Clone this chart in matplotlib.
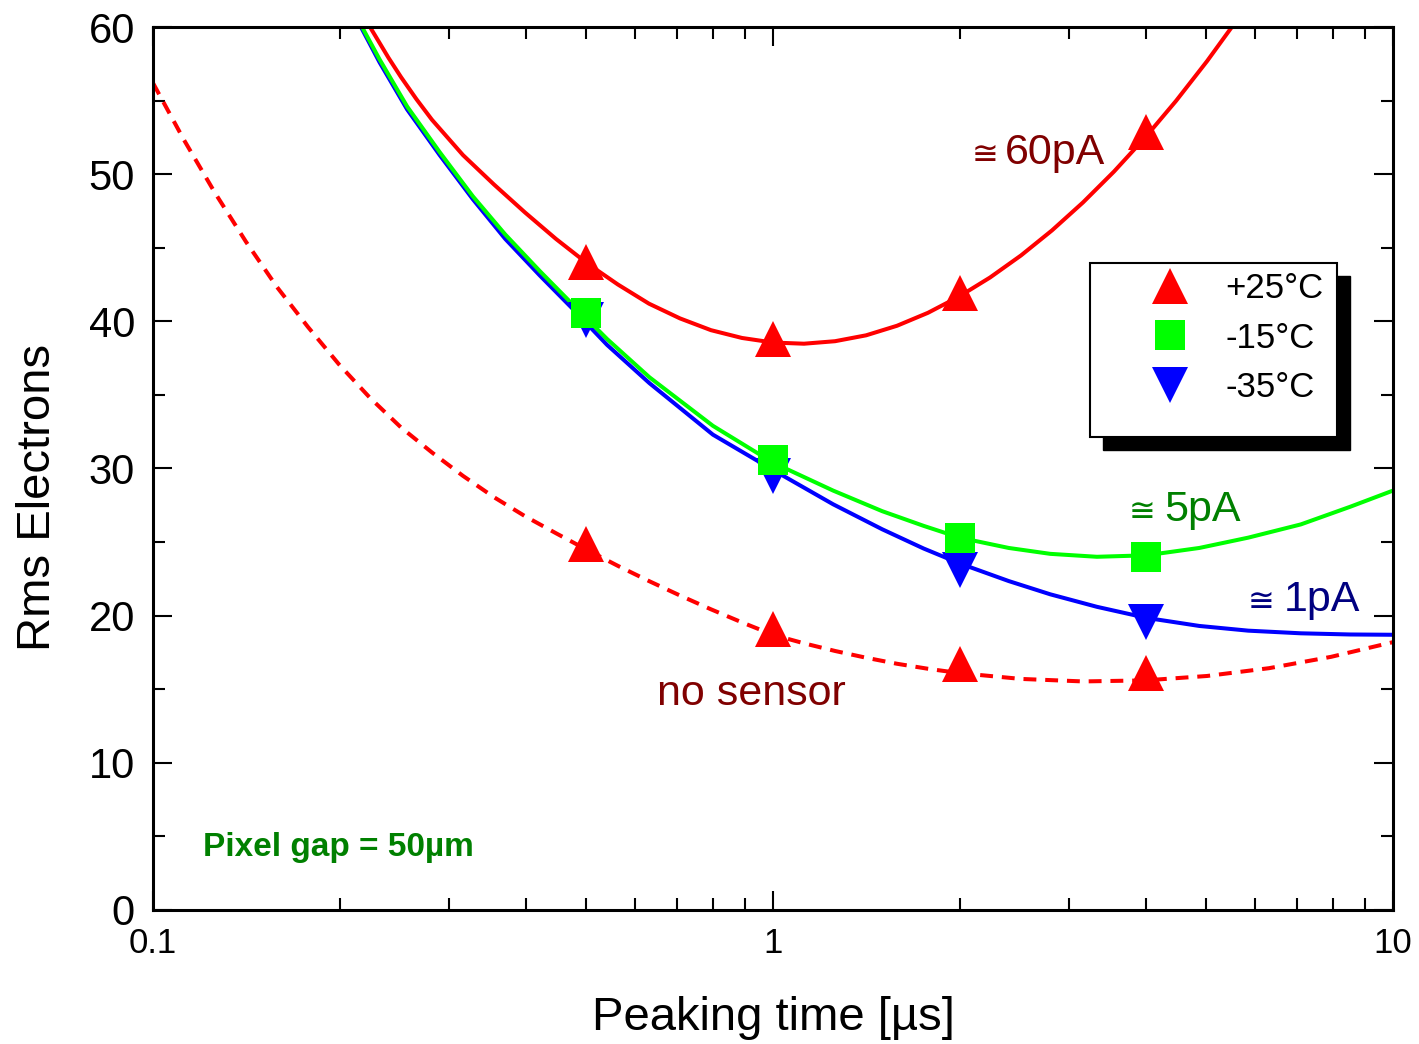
import matplotlib
matplotlib.use("Agg")
import matplotlib.pyplot as plt
from matplotlib.lines import Line2D
from matplotlib.patches import Rectangle
from matplotlib.ticker import FixedLocator, NullFormatter, MultipleLocator

plt.rcParams['font.family'] = ['Liberation Sans', 'DejaVu Sans']

# measured points (peaking time in us)
peak_times = [0.5, 1, 2, 4]
rms_25C = [44.0, 38.8, 41.9, 52.9]
rms_m15C = [40.6, 30.6, 25.3, 24.0]
rms_m35C = [40.1, 29.5, 23.1, 19.6]
rms_nosensor = [24.9, 19.1, 16.7, 16.1]

# fitted curves
fit_25C_t = [0.2239, 0.2399, 0.2512, 0.266, 0.2818, 0.3162, 0.3548, 0.3981, 0.4467,
             0.5012, 0.5623, 0.631, 0.7079, 0.7943, 0.8913, 1.0, 1.122, 1.259, 1.413,
             1.585, 1.778, 1.995, 2.239, 2.512, 2.818, 3.162, 3.548, 3.981, 4.467,
             5.012, 5.623]
fit_25C_rms = [60.0, 57.9, 56.6, 55.1, 53.7, 51.3, 49.3, 47.4, 45.6,
               43.95, 42.5, 41.2, 40.2, 39.4, 38.87, 38.56, 38.48, 38.65, 39.05,
               39.7, 40.58, 41.68, 42.98, 44.48, 46.18, 48.08, 50.18, 52.48, 54.98,
               57.68, 60.58]

fit_m15C_t = [0.2174, 0.232, 0.257, 0.290, 0.328, 0.370, 0.421, 0.474, 0.54, 0.632,
              0.80, 1.0, 1.25, 1.5, 1.75, 2.0, 2.4, 2.8, 3.33, 4.0, 4.87, 5.84, 7.1,
              8.53, 10.0]
fit_m15C_rms = [60.0, 57.8, 54.6, 51.5, 48.5, 45.9, 43.4, 41.2, 38.8, 36.2,
                32.9, 30.4, 28.5, 27.1, 26.1, 25.3, 24.6, 24.2, 24.0, 24.1, 24.6, 25.3, 26.2,
                27.4, 28.5]

fit_m35C_t = [0.2165, 0.232, 0.257, 0.290, 0.328, 0.370, 0.421, 0.474, 0.54, 0.632,
              0.80, 1.0, 1.25, 1.5, 1.75, 2.0, 2.4, 2.8, 3.33, 4.0, 4.87, 5.84, 7.1,
              8.53, 10.0]
fit_m35C_rms = [60.0, 57.6, 54.4, 51.3, 48.3, 45.6, 43.1, 40.9, 38.4, 35.8,
                32.3, 29.9, 27.57, 25.87, 24.56, 23.55, 22.35, 21.45, 20.6, 19.85, 19.3, 18.98, 18.8,
                18.72, 18.7]

fit_nos_t = [0.1, 0.1122, 0.1259, 0.1413, 0.1585, 0.1778, 0.1995, 0.2239, 0.2512, 0.2818,
             0.3162, 0.3548, 0.3981, 0.4467, 0.5012, 0.5623, 0.631, 0.7079, 0.7943, 0.8913,
             1.0, 1.122, 1.259, 1.413, 1.585, 1.778, 1.995, 2.512, 3.162, 3.981, 5.012,
             6.31, 7.943, 10.0]
fit_nos_rms = [56.2, 52.33, 48.73, 45.4, 42.33, 39.62, 37.08, 34.8, 32.79, 31.09,
               29.5, 28.05, 26.76, 25.6, 24.47, 23.38, 22.35, 21.37, 20.43, 19.54,
               18.7, 18.12, 17.6, 17.14, 16.73, 16.39, 16.1, 15.7, 15.53, 15.6, 15.9,
               16.43, 17.2, 18.2]

legend_labels = ['+25°C', '-15°C', '-35°C']

fig = plt.figure(figsize=(14.19, 10.44), dpi=100)
ax = fig.add_axes([0.1078, 0.1284, 0.8739, 0.8457])

lw = 2.9
ax.plot(fit_nos_t, fit_nos_rms, color='#FF0000', lw=lw, ls=(0, (3.2, 2.2)), zorder=2)
ax.plot(fit_m35C_t, fit_m35C_rms, color='#0000FF', lw=lw, zorder=2)
ax.plot(fit_m15C_t, fit_m15C_rms, color='#00FF00', lw=lw, zorder=2.1)
ax.plot(fit_25C_t, fit_25C_rms, color='#FF0000', lw=lw, zorder=2.2)

ms_tri = 26
ms_sq = 21.5
ax.plot(peak_times, rms_nosensor, ls='none', marker='^', ms=ms_tri, color='#FF0000', mew=0, zorder=3)
ax.plot(peak_times, rms_m35C, ls='none', marker='v', ms=ms_tri, color='#0000FF', mew=0, zorder=3)
ax.plot(peak_times, rms_m15C, ls='none', marker='s', ms=ms_sq, color='#00FF00', mew=0, zorder=3.1)
ax.plot(peak_times, rms_25C, ls='none', marker='^', ms=ms_tri, color='#FF0000', mew=0, zorder=3.2)

ax.set_xscale('log')
ax.set_xlim(0.1, 10)
ax.set_ylim(0, 60)

ax.xaxis.set_major_locator(FixedLocator([0.1, 1, 10]))
ax.set_xticklabels(['0.1', '1', '10'])
minor_x = [m * d for d in (0.1, 1) for m in range(2, 10)]
ax.xaxis.set_minor_locator(FixedLocator(minor_x))
ax.xaxis.set_minor_formatter(NullFormatter())
ax.yaxis.set_major_locator(MultipleLocator(10))
ax.yaxis.set_minor_locator(MultipleLocator(5))

ax.tick_params(which='both', direction='in', top=True, right=True, width=1.5)
ax.tick_params(which='major', length=14)
ax.tick_params(which='minor', length=8.5)
ax.tick_params(axis='x', which='major', labelsize=25, pad=12)
ax.tick_params(axis='y', which='major', labelsize=30, pad=13)
for s in ax.spines.values():
    s.set_linewidth(2.2)

ax.set_xlabel('Peaking time [µs]', fontsize=34, labelpad=26)
ax.set_ylabel('Rms Electrons', fontsize=34)
ax.yaxis.set_label_coords(-0.075, 0.4677)

# curve annotations
ax.text(2.09, 50.7, '≅', color='#800000', fontsize=23, va='baseline')
ax.text(2.367, 50.7, '60pA', color='#800000', fontsize=31, va='baseline')
ax.text(3.74, 26.4, '≅', color='#008000', fontsize=23, va='baseline')
ax.text(4.27, 26.4, '5pA', color='#008000', fontsize=31, va='baseline')
ax.text(5.83, 20.3, '≅', color='#000080', fontsize=23, va='baseline')
ax.text(6.67, 20.3, '1pA', color='#000080', fontsize=31, va='baseline')
ax.text(0.65, 13.9, 'no sensor', color='#800000', fontsize=31, va='baseline')
ax.text(0.1204, 3.7, 'Pixel gap = 50µm', color='#008000', fontsize=24,
        fontweight='bold', va='baseline')

# legend box with hard black shadow
x0, x1 = 0.7556, 0.9548
y0, y1 = 0.5357, 0.7327
ax.add_patch(Rectangle((x0 + 0.0105, y0 - 0.0147), x1 - x0, y1 - y0, transform=ax.transAxes,
                       facecolor='black', edgecolor='black', zorder=4, clip_on=False))
ax.add_patch(Rectangle((x0, y0), x1 - x0, y1 - y0, transform=ax.transAxes,
                       facecolor='white', edgecolor='black', lw=1.5, zorder=4.1, clip_on=False))

handles = [
    Line2D([], [], ls='none', marker='^', ms=ms_tri, color='#FF0000', mew=0),
    Line2D([], [], ls='none', marker='s', ms=ms_sq, color='#00FF00', mew=0),
    Line2D([], [], ls='none', marker='v', ms=ms_tri, color='#0000FF', mew=0),
]
leg = ax.legend(handles, legend_labels, loc='center left', bbox_to_anchor=(0.7992, 0.6478),
                frameon=False, fontsize=25, borderpad=0, handlelength=1.5,
                handletextpad=0.84, labelspacing=0.48, borderaxespad=0)
leg.set_zorder(5)

fig.savefig('out.png', dpi=100)
